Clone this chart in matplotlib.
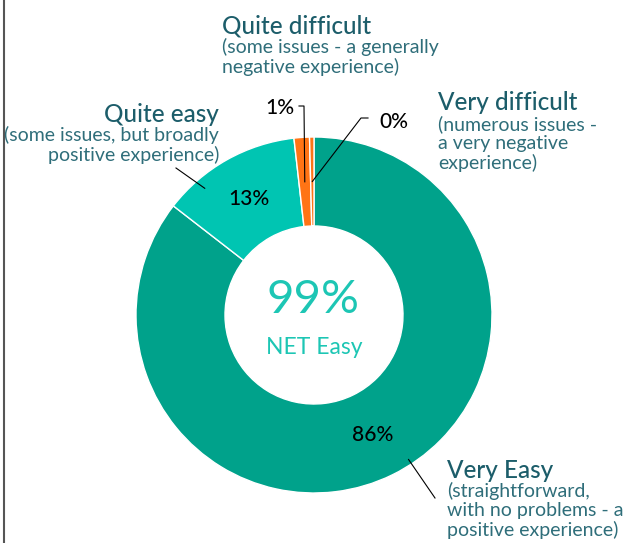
import matplotlib
matplotlib.use('Agg')
import matplotlib.pyplot as plt
import numpy as np

# Données
categories = ['Very Easy', 'Quite easy', 'Quite difficult', 'Very difficult']
values = [85.5, 12.7, 1.4, 0.4]
pct_labels = ['86%', '13%', '1%', '0%']
descriptions = [
    '(straightforward,\nwith no problems - a\npositive experience)',
    '(some issues, but broadly\npositive experience)',
    '(some issues - a generally\nnegative experience)',
    '(numerous issues -\na very negative\nexperience)',
]
net_value = '99%'
net_label = 'NET Easy'

colors = ['#00A28B', '#00C5B2', '#FF7415', '#FF7415']
title_color = '#1C5D6A'
desc_color = '#2F6E7A'
W, H = 625, 543

plt.rcParams['font.family'] = ['Lato', 'DejaVu Sans']

fig = plt.figure(figsize=(W / 100, H / 100), dpi=100)
ax = fig.add_axes([0, 0, 1, 1])


def P(x, y):
    # coordonnées image (origine en haut) -> coordonnées axes
    return (x, H - y)


cx, cy = P(314, 315)
R = 178
wedges, _ = ax.pie(values, colors=colors, startangle=90, counterclock=False,
                   center=(cx, cy), radius=R, frame=True,
                   wedgeprops=dict(width=R * 0.5, edgecolor='white', linewidth=1))
ax.set_xlim(0, W)
ax.set_ylim(0, H)
ax.set_aspect('equal')
ax.axis('off')


def polar(angle, r):
    a = np.radians(angle)
    return cx + r * np.cos(a), cy + r * np.sin(a)


def mid(w):
    return (w.theta1 + w.theta2) / 2


r_mid = R * 0.75
pfs = 15
# étiquettes dans l'anneau
for i in (0, 1):
    x, y = polar(mid(wedges[i]), r_mid)
    ax.text(x, y, pct_labels[i], ha='center', va='center', fontsize=pfs,
            color='black', fontweight='medium')

# 1% avec ligne coudée
ax_, ay_ = polar(mid(wedges[2]), r_mid)
ex, ey = P(304, 106)
ax.plot([ax_, ex, ex - 5], [ay_, ey, ey], color='black', lw=0.8)
ax.text(*P(294, 108), pct_labels[2], ha='right', va='center', fontsize=pfs,
        fontweight='medium')

# 0%
bx, by = polar(mid(wedges[3]), r_mid)
ex, ey = P(361, 118)
ax.plot([bx, ex, ex + 7], [by, ey, ey], color='black', lw=0.8)
ax.text(*P(379, 122), pct_labels[3], ha='left', va='center', fontsize=pfs,
        fontweight='medium')

# lignes vers les titres
w1 = wedges[1]
qx, qy = polar(w1.theta2 - 0.25 * (w1.theta2 - w1.theta1), R * 0.94)
ax.plot([qx, P(176, 168)[0]], [qy, P(176, 168)[1]], color='black', lw=0.8)
vx, vy = polar(-56.8, R * 0.97)
ax.plot([vx, P(435, 498)[0]], [vy, P(435, 498)[1]], color='black', lw=0.8)

# titres et descriptions
tfs, dfs = 17.5, 14


def block(x, y, i, ha):
    ax.text(*P(x, y), categories[i], ha=ha, va='center', fontsize=tfs,
            color=title_color, fontweight='medium')
    ax.text(*P(x, y + 12), descriptions[i], ha=ha, va='top', fontsize=dfs,
            color=desc_color, linespacing=1.13, multialignment=ha)


block(447, 470, 0, 'left')
block(219, 114, 1, 'right')
block(222, 26, 2, 'left')
block(438, 103, 3, 'left')

# centre
ax.text(*P(313, 300), net_value, ha='center', va='center', fontsize=34,
        color='#1DC6B4')
ax.text(*P(314, 347), net_label, ha='center', va='center', fontsize=16.5,
        color='#1DC6B4')

# bordure gauche
fig.add_artist(plt.Line2D([4 / W, 4 / W], [0, 1], color='#555555', lw=1.5))

fig.savefig('out.png', dpi=100)
plt.close(fig)
